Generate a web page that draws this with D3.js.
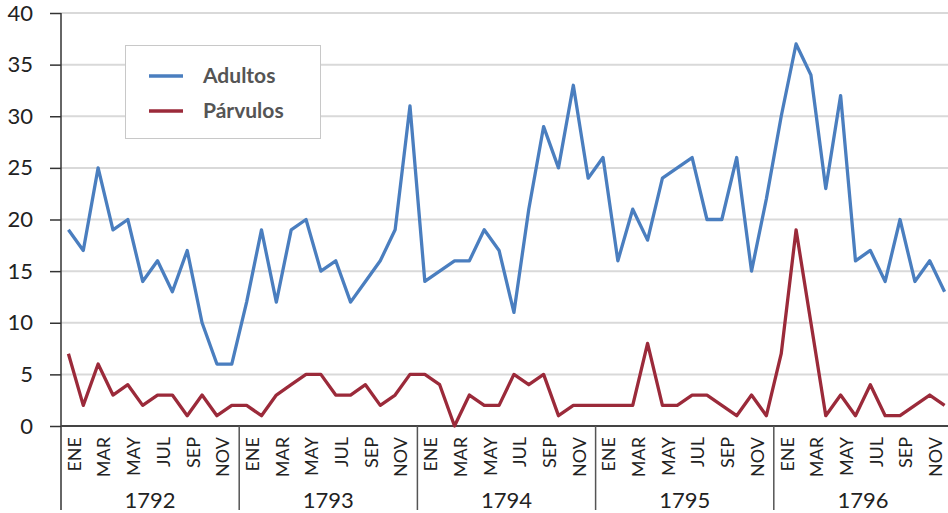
<!DOCTYPE html>
<meta charset="utf-8">
<style>
  body { margin: 0; background: #fff; }
  text { font-family: Lato, "Noto Sans", sans-serif; }
</style>
<body>
<script src="https://d3js.org/d3.v7.min.js"></script>
<script>

var years = ["1792", "1793", "1794", "1795", "1796"];
var months = ["ENE", "FEB", "MAR", "ABR", "MAY", "JUN", "JUL", "AGO", "SEP", "OCT", "NOV", "DIC"];
var yTicks = [0, 5, 10, 15, 20, 25, 30, 35, 40];

// one value per month, Jan 1792 .. Dec 1796
var adultos = [
  19, 17, 25, 19, 20, 14, 16, 13, 17, 10, 6, 6,
  12, 19, 12, 19, 20, 15, 16, 12, 14, 16, 19, 31,
  14, 15, 16, 16, 19, 17, 11, 21, 29, 25, 33, 24,
  26, 16, 21, 18, 24, 25, 26, 20, 20, 26, 15, 22,
  30, 37, 34, 23, 32, 16, 17, 14, 20, 14, 16, 13
];
var parvulos = [
  7, 2, 6, 3, 4, 2, 3, 3, 1, 3, 1, 2,
  2, 1, 3, 4, 5, 5, 3, 3, 4, 2, 3, 5,
  5, 4, 0, 3, 2, 2, 5, 4, 5, 1, 2, 2,
  2, 2, 2, 8, 2, 2, 3, 3, 2, 1, 3, 1,
  7, 19, 10, 1, 3, 1, 4, 1, 1, 2, 3, 2
];

var width = 948, height = 513;
var plotLeft = 61, plotRight = 952, plotTop = 13, plotBase = 426, plotBottom = 510;

var keys = [];
years.forEach(function (yr) {
  months.forEach(function (m, i) { keys.push({ year: yr, month: m, i: i, key: yr + "-" + i }); });
});

var x = d3.scaleBand().domain(keys.map(function (d) { return d.key; })).range([plotLeft, plotRight]).padding(0);
var xYear = d3.scaleBand().domain(years).range([plotLeft, plotRight]).padding(0);
var y = d3.scaleLinear().domain([0, 40]).range([plotBase, plotTop]);

var svg = d3.select("body").append("svg")
    .attr("width", width)
    .attr("height", height);

// gridlines
svg.append("g").selectAll("line")
    .data(yTicks.filter(function (d) { return d > 0; }))
  .enter().append("line")
    .attr("x1", plotLeft).attr("x2", width)
    .attr("y1", function (d) { return y(d); })
    .attr("y2", function (d) { return y(d); })
    .attr("stroke", "#d9d9d9")
    .attr("stroke-width", 2);

// y axis
var yAxis = svg.append("g")
    .attr("transform", "translate(" + plotLeft + ",0)")
    .call(d3.axisLeft(y).tickValues(yTicks).tickSize(11).tickPadding(17));
yAxis.select(".domain").remove();
yAxis.selectAll("line").attr("stroke", "#333").attr("stroke-width", 1.5);
yAxis.selectAll("text")
    .style("font-size", "22px")
    .style("font-family", "Lato, sans-serif")
    .attr("fill", "#222");

svg.append("line")
    .attr("x1", plotLeft).attr("x2", plotLeft)
    .attr("y1", plotTop).attr("y2", plotBottom)
    .attr("stroke", "#333").attr("stroke-width", 1.5);

// bottom axis
svg.append("line")
    .attr("x1", plotLeft).attr("x2", width)
    .attr("y1", y(0)).attr("y2", y(0))
    .attr("stroke", "#444").attr("stroke-width", 2);

// year separators
svg.append("g").selectAll("line")
    .data(years.slice(1))
  .enter().append("line")
    .attr("x1", function (d) { return xYear(d); })
    .attr("x2", function (d) { return xYear(d); })
    .attr("y1", y(0)).attr("y2", plotBottom)
    .attr("stroke", "#555").attr("stroke-width", 1.5);

// month labels (every other month)
svg.append("g").selectAll("text")
    .data(keys.filter(function (d) { return d.i % 2 === 0; }))
  .enter().append("text")
    .attr("transform", function (d) {
      return "translate(" + (x(d.key) + x.bandwidth() / 2 + 6) + "," + (plotBase + 11) + ") rotate(-90)";
    })
    .attr("text-anchor", "end")
    .attr("dy", "0.35em")
    .style("font-size", "18px")
    .attr("fill", "#222")
    .text(function (d) { return d.month; });

// year labels
svg.append("g").selectAll("text")
    .data(years)
  .enter().append("text")
    .attr("x", function (d) { return xYear(d) + xYear.bandwidth() / 2; })
    .attr("y", 508)
    .attr("text-anchor", "middle")
    .style("font-size", "22px")
    .attr("fill", "#222")
    .text(function (d) { return d; });

// lines
var line = d3.line()
    .x(function (d, i) { return x(keys[i].key) + x.bandwidth() / 2; })
    .y(function (d) { return y(d); });

var series = [
  { name: "Adultos", values: adultos, color: "#4a7ebf" },
  { name: "Párvulos", values: parvulos, color: "#9b2a3a" }
];

svg.append("g").selectAll("path")
    .data(series)
  .enter().append("path")
    .attr("d", function (d) { return line(d.values); })
    .attr("fill", "none")
    .attr("stroke", function (d) { return d.color; })
    .attr("stroke-width", 3.3)
    .attr("stroke-linejoin", "round");

// legend
var legend = svg.append("g");
legend.append("rect")
    .attr("x", 125.5).attr("y", 45.5)
    .attr("width", 195).attr("height", 93)
    .attr("fill", "#fff")
    .attr("stroke", "#c8c8c8")
    .attr("stroke-width", 1);

var item = legend.selectAll(".item")
    .data(series)
  .enter().append("g")
    .attr("transform", function (d, i) { return "translate(0," + (76 + i * 35) + ")"; });
item.append("line")
    .attr("x1", 149).attr("x2", 183)
    .attr("stroke", function (d) { return d.color; })
    .attr("stroke-width", 3.5);
item.append("text")
    .attr("x", 203)
    .attr("dy", "0.35em")
    .style("font-size", "21px")
    .style("font-weight", "bold")
    .attr("fill", "#555")
    .text(function (d) { return d.name; });

</script>
</body>
